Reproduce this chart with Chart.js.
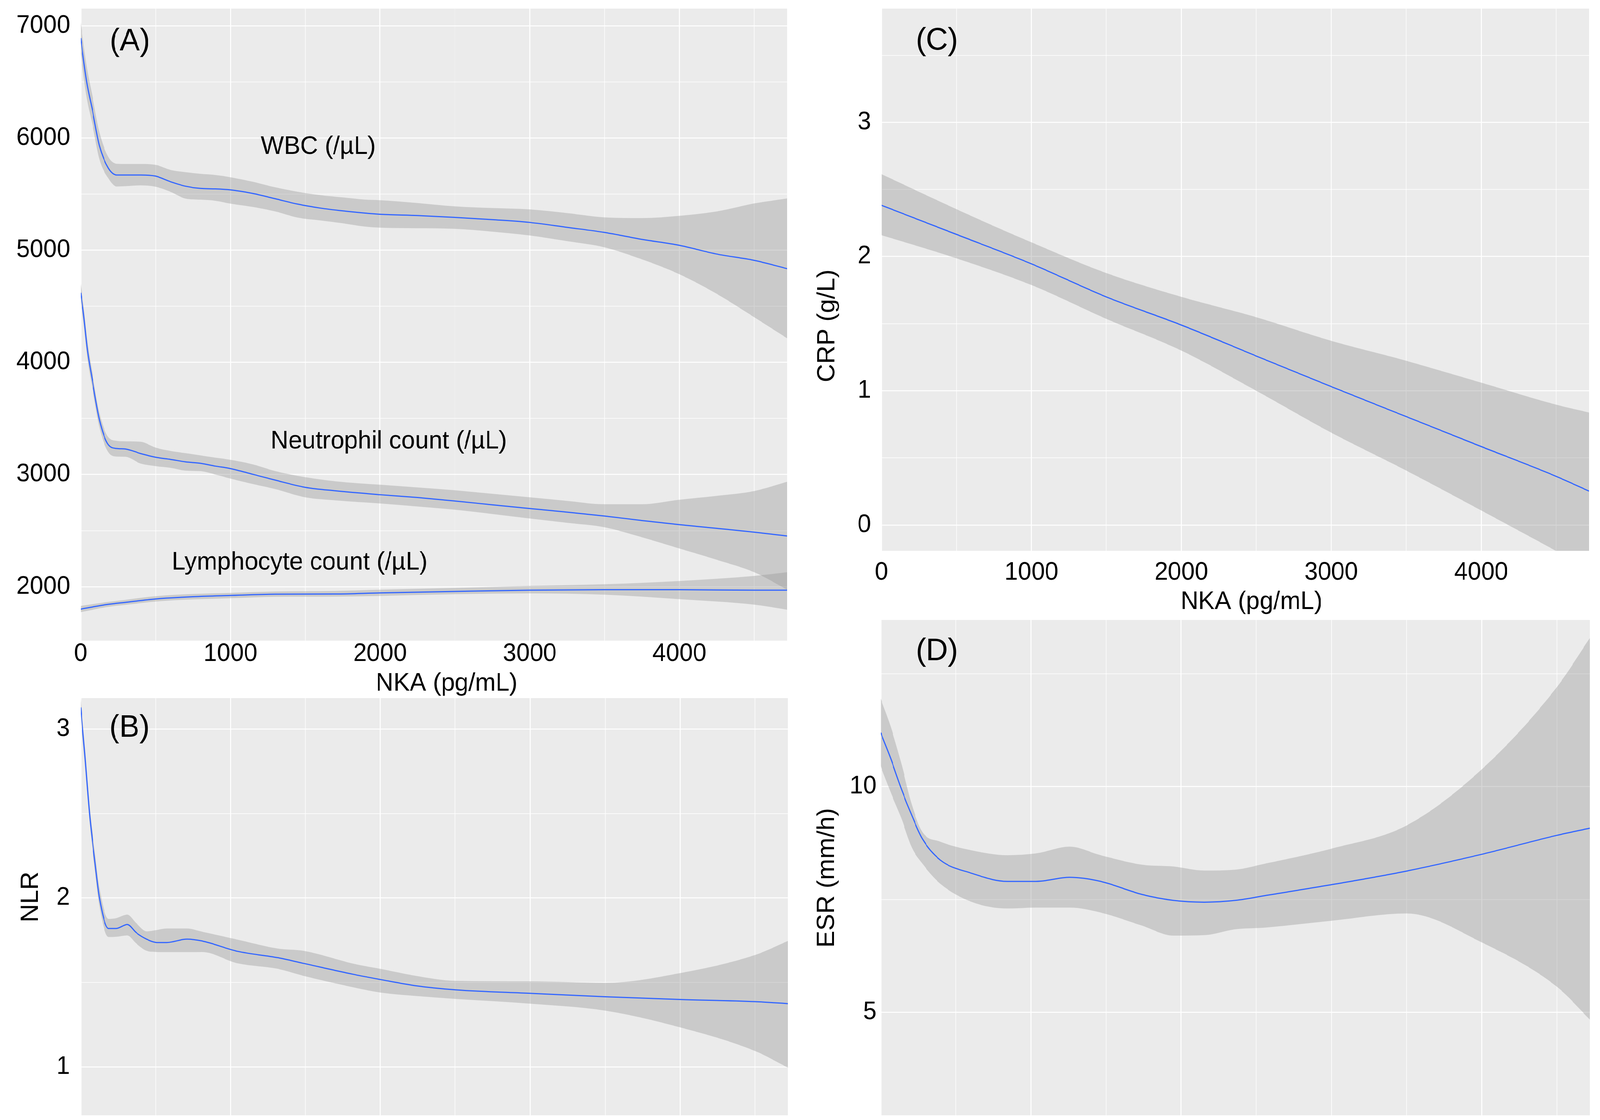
<!DOCTYPE html>
<html>
<head>
<meta charset="utf-8">
<script src="https://cdn.jsdelivr.net/npm/chart.js@4.4.0/dist/chart.umd.min.js"></script>
<style>
  html, body { margin: 0; padding: 0; background: #fff; overflow: hidden; }
  #wrap { position: relative; width: 4242px; height: 2867px; overflow: hidden; background: #fff; transform-origin: 0 0; }
  canvas { position: absolute; }
</style>
</head>
<body>
<div id="wrap">
  <canvas id="chartA" width="2100" height="1790" style="left:0;top:0"></canvas>
  <canvas id="chartB" width="2100" height="1087" style="left:0;top:1780px"></canvas>
  <canvas id="chartC" width="2142" height="1590" style="left:2100px;top:0"></canvas>
  <canvas id="chartD" width="2142" height="1307" style="left:2100px;top:1560px"></canvas>
</div>
<script>
// NKA axis (shared by all four panels)
const X_MAX      = 4720;
const X_TICKS    = [0, 500, 1000, 1500, 2000, 2500, 3000, 3500, 4000, 4500];
const X_LABELS   = ['0', '', '1000', '', '2000', '', '3000', '', '4000', ''];

// y ticks per panel
const A_TICKS    = [2000, 2500, 3000, 3500, 4000, 4500, 5000, 5500, 6000, 6500, 7000];
const A_LABELS   = ['2000', '', '3000', '', '4000', '', '5000', '', '6000', '', '7000'];
const B_TICKS    = [1, 1.5, 2, 2.5, 3];
const B_LABELS   = ['1', '', '2', '', '3'];
const C_TICKS    = [0, 0.5, 1, 1.5, 2, 2.5, 3, 3.5];
const C_LABELS   = ['0', '', '1', '', '2', '', '3', ''];
const D_TICKS    = [5, 7.5, 10, 12.5];
const D_LABELS   = ['5', '', '10', ''];

// (A) WBC
const wbcX    = [0, 40, 80, 125, 185, 240, 300, 400, 500, 600, 700, 800, 900, 1000, 1150, 1300, 1450, 1600, 1750, 1900, 2000, 2250, 2500, 2750, 3000, 3250, 3500, 3750, 4000, 4250, 4500, 4720];
const wbcFit  = [6890, 6500, 6235, 5930, 5730, 5670, 5670, 5670, 5660, 5610, 5570, 5550, 5546, 5537, 5505, 5458, 5410, 5375, 5350, 5330, 5320, 5308, 5292, 5272, 5247, 5203, 5158, 5096, 5043, 4965, 4909, 4835];
const wbcHigh = [7030, 6640, 6360, 6050, 5830, 5770, 5768, 5768, 5760, 5715, 5695, 5680, 5670, 5650, 5610, 5560, 5520, 5490, 5470, 5450, 5445, 5420, 5390, 5375, 5363, 5330, 5292, 5286, 5306, 5345, 5416, 5461];
const wbcLow  = [6750, 6360, 6110, 5810, 5640, 5567, 5570, 5577, 5565, 5520, 5460, 5450, 5440, 5415, 5385, 5345, 5290, 5265, 5240, 5210, 5200, 5195, 5190, 5165, 5131, 5080, 5025, 4918, 4785, 4610, 4402, 4214];

// (A) Neutrophil count
const neuX    = [0, 20, 45, 80, 125, 185, 240, 300, 400, 500, 600, 700, 800, 900, 1000, 1150, 1300, 1500, 1700, 2000, 2250, 2500, 2750, 3000, 3250, 3500, 3750, 4000, 4250, 4500, 4720];
const neuFit  = [4620, 4420, 4110, 3822, 3488, 3265, 3232, 3227, 3187, 3154, 3135, 3113, 3100, 3075, 3053, 3002, 2950, 2886, 2855, 2820, 2795, 2764, 2730, 2697, 2665, 2630, 2590, 2553, 2520, 2486, 2452];
const neuHigh = [4700, 4500, 4190, 3890, 3550, 3332, 3300, 3296, 3292, 3240, 3210, 3190, 3170, 3150, 3131, 3090, 3030, 2976, 2940, 2909, 2885, 2860, 2828, 2797, 2765, 2735, 2735, 2775, 2810, 2853, 2935];
const neuLow  = [4540, 4340, 4030, 3750, 3420, 3198, 3160, 3158, 3098, 3075, 3060, 3035, 3030, 3000, 2964, 2915, 2870, 2797, 2770, 2742, 2715, 2686, 2648, 2608, 2570, 2530, 2441, 2341, 2240, 2129, 1973];

// (A) Lymphocyte count
const lymX    = [0, 170, 310, 500, 750, 1000, 1300, 1700, 2000, 2500, 3000, 3500, 4000, 4500, 4720];
const lymFit  = [1800, 1840, 1862, 1891, 1911, 1922, 1933, 1935, 1945, 1958, 1969, 1973, 1973, 1969, 1969];
const lymHigh = [1829, 1862, 1885, 1915, 1935, 1945, 1957, 1962, 1973, 1989, 2007, 2022, 2051, 2096, 2129];
const lymLow  = [1773, 1818, 1840, 1868, 1887, 1898, 1910, 1912, 1918, 1933, 1940, 1929, 1889, 1840, 1795];

// (B) NLR
const nlrX    = [0, 27, 61, 95, 125, 186, 236, 311, 371, 439, 506, 574, 709, 810, 1046, 1316, 1485, 1823, 2000, 2229, 2500, 3000, 3500, 4000, 4500, 4720];
const nlrFit  = [3.128, 2.857, 2.478, 2.214, 2.0, 1.819, 1.819, 1.843, 1.794, 1.756, 1.736, 1.736, 1.756, 1.745, 1.684, 1.646, 1.613, 1.547, 1.517, 1.481, 1.456, 1.435, 1.415, 1.399, 1.386, 1.374];
const nlrHigh = [3.18, 2.91, 2.53, 2.27, 2.06, 1.876, 1.88, 1.901, 1.85, 1.802, 1.81, 1.819, 1.819, 1.80, 1.753, 1.70, 1.687, 1.61, 1.58, 1.54, 1.509, 1.506, 1.497, 1.555, 1.662, 1.745];
const nlrLow  = [3.07, 2.80, 2.43, 2.16, 1.95, 1.769, 1.77, 1.778, 1.73, 1.687, 1.68, 1.679, 1.679, 1.68, 1.613, 1.58, 1.539, 1.47, 1.44, 1.42, 1.402, 1.374, 1.333, 1.234, 1.094, 0.995];

// (C) CRP
const crpX    = [0, 500, 1000, 1500, 2000, 2500, 3000, 3500, 4000, 4500, 4720];
const crpFit  = [2.382, 2.165, 1.946, 1.699, 1.49, 1.259, 1.031, 0.808, 0.585, 0.363, 0.253];
const crpHigh = [2.614, 2.353, 2.106, 1.877, 1.70, 1.548, 1.372, 1.224, 1.061, 0.897, 0.838];
const crpLow  = [2.159, 1.987, 1.788, 1.536, 1.30, 1.0, 0.688, 0.406, 0.109, -0.193, -0.33];

// (D) ESR
const esrX    = [0, 69, 138, 207, 276, 396, 603, 844, 1034, 1258, 1464, 1740, 1947, 2154, 2361, 2567, 3005, 3501, 4000, 4500, 4720];
const esrFit  = [11.195, 10.598, 9.94, 9.36, 8.85, 8.375, 8.083, 7.9, 7.9, 7.99, 7.9, 7.61, 7.48, 7.44, 7.48, 7.59, 7.83, 8.13, 8.5, 8.92, 9.08];
const esrHigh = [11.95, 11.3, 10.5, 9.6, 9.0, 8.78, 8.59, 8.48, 8.52, 8.67, 8.48, 8.27, 8.23, 8.14, 8.16, 8.3, 8.63, 9.14, 10.38, 12.2, 13.29];
const esrLow  = [10.45, 9.85, 9.29, 8.65, 8.3, 7.85, 7.45, 7.3, 7.32, 7.32, 7.21, 6.92, 6.70, 6.71, 6.84, 6.88, 7.03, 7.19, 6.55, 5.57, 4.84];

const FONT   = "'Liberation Sans', Arial, Helvetica, sans-serif";
const BLUE   = '#3366FF';
const RIBBON = 'rgba(153,153,153,0.4)';
const PANEL  = '#EBEBEB';

// the figure is laid out on a 4242 x 2867 sheet; stretch it to the actual window
(function fitWindow() {
	const w = window.innerWidth || document.documentElement.clientWidth;
	const h = window.innerHeight || document.documentElement.clientHeight;
	if (w > 0 && h > 0 && (w !== 4242 || h !== 2867)) {
		document.getElementById('wrap').style.transform = 'scale(' + (w / 4242) + ',' + (h / 2867) + ')';
	}
})();

const pts = (xs, ys) => xs.map((x, i) => ({ x: x, y: ys[i] }));

// ribbon (low + high filled between) and fitted line
function smooth(xs, fit, low, high) {
	const base = { pointRadius: 0, borderWidth: 0, borderColor: 'rgba(0,0,0,0)', cubicInterpolationMode: 'monotone', order: 1 };
	return {
		band: [
			Object.assign({}, base, { data: pts(xs, low), fill: false }),
			Object.assign({}, base, { data: pts(xs, high), fill: '-1', backgroundColor: RIBBON })
		],
		line: Object.assign({}, base, { data: pts(xs, fit), borderWidth: 3, borderColor: BLUE, fill: false, order: 0 })
	};
}

// grey panel background
const panelBg = {
	id: 'panelBg',
	beforeDraw(chart) {
		const { ctx, chartArea: a } = chart;
		ctx.save();
		ctx.fillStyle = PANEL;
		ctx.fillRect(a.left, a.top, a.right - a.left, a.bottom - a.top);
		ctx.restore();
	}
};

// free text: panel tags, curve names, axis titles
function notes(items) {
	return {
		id: 'notes',
		afterDraw(chart) {
			const { ctx, scales } = chart;
			items.forEach(n => {
				const px = n.data ? scales.x.getPixelForValue(n.x) : n.x;
				const py = n.data ? scales.y.getPixelForValue(n.y) : n.y;
				ctx.save();
				ctx.fillStyle = '#000';
				ctx.textAlign = 'center';
				ctx.textBaseline = 'middle';
				ctx.font = n.size + 'px ' + FONT;
				ctx.translate(px, py);
				if (n.rot) ctx.rotate(-Math.PI / 2);
				ctx.fillText(n.text, 0, 0);
				ctx.restore();
			});
		}
	};
}

function noPad(s) {
	s.paddingTop = 0; s.paddingBottom = 0; s.paddingLeft = 0; s.paddingRight = 0;
}

function panel(id, cfg) {
	const sets = cfg.series.map(s => smooth(s[0], s[1], s[2], s[3]));
	const datasets = [];
	sets.forEach(s => datasets.push(s.band[0], s.band[1]));
	sets.forEach(s => datasets.push(s.line));
	const tickFont = { family: FONT, size: 64, lineHeight: 1 };

	new Chart(document.getElementById(id), {
		type: 'line',
		data: { datasets: datasets },
		options: {
			responsive: false,
			animation: false,
			devicePixelRatio: 1,
			layout: { padding: cfg.pad },
			plugins: { legend: { display: false }, tooltip: { enabled: false } },
			scales: {
				x: {
					type: 'linear', bounds: 'data', min: 0, max: X_MAX,
					afterBuildTicks: s => { s.ticks = X_TICKS.map(v => ({ value: v })); },
					afterFit: s => { s.height = cfg.xHeight; noPad(s); },
					border: { display: false },
					grid: { color: '#ffffff', drawTicks: false,
						lineWidth: c => (c.tick && X_LABELS[c.index] !== '') ? 2.6 : 1.4 },
					ticks: { display: cfg.xShow, autoSkip: false, maxRotation: 0, minRotation: 0,
						padding: cfg.xPad, color: '#000', font: tickFont,
						callback: (v, i) => X_LABELS[i] }
				},
				y: {
					type: 'linear', bounds: 'data', min: cfg.yMin, max: cfg.yMax,
					afterBuildTicks: s => { s.ticks = cfg.yTicks.map(v => ({ value: v })); },
					afterFit: s => { s.width = cfg.yWidth; noPad(s); },
					border: { display: false },
					grid: { color: '#ffffff', drawTicks: false,
						lineWidth: c => (c.tick && cfg.yLabels[c.index] !== '') ? 2.6 : 1.4 },
					ticks: { autoSkip: false, padding: cfg.yPad, color: '#000', font: tickFont,
						callback: (v, i) => cfg.yLabels[i] }
				}
			}
		},
		plugins: [panelBg, notes(cfg.notes)]
	});
}

panel('chartA', {
	series: [[wbcX, wbcFit, wbcLow, wbcHigh], [neuX, neuFit, neuLow, neuHigh], [lymX, lymFit, lymLow, lymHigh]],
	pad: { top: 22, right: 13, bottom: 0, left: 0 },
	yMin: 1519, yMax: 7153, yTicks: A_TICKS, yLabels: A_LABELS, yWidth: 214, yPad: 28,
	xHeight: 150, xPad: 2, xShow: true,
	notes: [
		{ text: '(A)', x: 344, y: 107, size: 80 },
		{ text: 'WBC (/µL)', x: 1587, y: 5920, size: 65, data: true },
		{ text: 'Neutrophil count (/µL)', x: 2058, y: 3295, size: 65, data: true },
		{ text: 'Lymphocyte count (/µL)', x: 1463, y: 2215, size: 65, data: true },
		{ text: 'NKA (pg/mL)', x: 1184, y: 1750, size: 65 }
	]
});

panel('chartB', {
	series: [[nlrX, nlrFit, nlrLow, nlrHigh]],
	pad: { top: 7, right: 11, bottom: 12, left: 0 },
	yMin: 0.713, yMax: 3.183, yTicks: B_TICKS, yLabels: B_LABELS, yWidth: 214, yPad: 29,
	xHeight: 0, xPad: 0, xShow: false,
	notes: [
		{ text: '(B)', x: 343, y: 84, size: 80 },
		{ text: 'NLR', x: 82, y: 516, size: 65, rot: true }
	]
});

panel('chartC', {
	series: [[crpX, crpFit, crpLow, crpHigh]],
	pad: { top: 22, right: 29, bottom: 0, left: 0 },
	yMin: -0.192, yMax: 3.847, yTicks: C_TICKS, yLabels: C_LABELS, yWidth: 237, yPad: 28,
	xHeight: 180, xPad: 24, xShow: true,
	notes: [
		{ text: '(C)', x: 384, y: 105, size: 80 },
		{ text: 'CRP (g/L)', x: 94, y: 834, size: 65, rot: true },
		{ text: 'NKA (pg/mL)', x: 1218, y: 1541, size: 65 }
	]
});

panel('chartD', {
	series: [[esrX, esrFit, esrLow, esrHigh]],
	pad: { top: 27, right: 27, bottom: 12, left: 0 },
	yMin: 2.72, yMax: 13.69, yTicks: D_TICKS, yLabels: D_LABELS, yWidth: 235, yPad: 11,
	xHeight: 0, xPad: 0, xShow: false,
	notes: [
		{ text: '(D)', x: 384, y: 108, size: 80 },
		{ text: 'ESR (mm/h)', x: 93, y: 687, size: 65, rot: true }
	]
});
</script>
</body>
</html>
